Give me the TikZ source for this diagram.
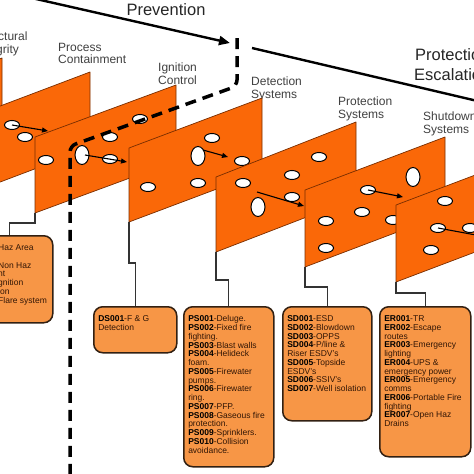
\documentclass[tikz,border=0pt]{standalone}
\usepackage{fontspec}
\setsansfont{Liberation Sans}
\usetikzlibrary{arrows.meta, shapes.geometric}

\definecolor{planeorange}{RGB}{250,104,8}
\definecolor{planeedge}{RGB}{120,45,0}
\definecolor{boxorange}{RGB}{247,150,70}
\definecolor{boxedge}{RGB}{50,32,18}
\definecolor{boxtext}{RGB}{50,22,5}

\newcommand{\itemcode}[1]{\textbf{\textcolor{black}{#1}}}
\newcommand{\boxlines}[3]{\parbox[t][#2][t]{#1}{\raggedright #3}}

\begin{document}
\begin{tikzpicture}[
  x=1pt, y=-1pt, font=\sffamily,
  plane/.style={fill=planeorange, draw=planeedge, line width=0.7pt, line join=round},
  hole/.style={ellipse, draw=black, fill=white, line width=1pt, inner sep=0pt,
               minimum width=15pt, minimum height=9pt},
  tallhole/.style={hole, minimum width=14pt, minimum height=19pt},
  flow/.style={-{Triangle[length=6pt, width=5pt]}, line width=1.1pt, black},
  layer/.style={font=\sffamily\fontsize{12}{12.5}\selectfont, text=black!75,
                align=left, inner sep=0pt, anchor=north west},
  phase/.style={font=\sffamily\fontsize{16.5}{20}\selectfont, text=black!85,
                align=center, inner sep=0pt},
  phaseline/.style={line width=2.4pt, black},
  infobox/.style={rectangle, rounded corners=9pt, draw=boxedge, line width=1.5pt,
                  fill=boxorange, anchor=north west, inner xsep=4.5pt, inner ysep=9pt,
                  text=boxtext, font=\sffamily\fontsize{8.5}{8.75}\selectfont},
  link/.style={draw=black!80, line width=1.2pt},
  barrier/.style={line width=3.5pt, dash pattern=on 11pt off 7pt, rounded corners=6pt},
]
\path[use as bounding box] (0,0) rectangle (474,474);
\clip (0,0) rectangle (474,474);

% ---- prevention / protection headings ----
\coordinate (prev-a) at (-30,-16);
\coordinate (prev-b) at (230,43);
\draw[phaseline, -{Triangle[length=11pt, width=9pt]}] (prev-a) -- (prev-b);
\node[phase] (prev) at (166,10) {Prevention};
\coordinate (prot-a) at (252,48);
\coordinate (prot-b) at (520,111);
\draw[phaseline] (prot-a) -- (prot-b);
\node[phase, anchor=north west] (prot) at (414,48) {Protection\\Escalation};

% ---- layer names ----
\node[layer] (l-struct) at (-24,32)  {Structural\\Integrity};
\node[layer] (l-proc)   at (58,43)   {Process\\Containment};
\node[layer] (l-ign)    at (158,63)  {Ignition\\Control};
\node[layer] (l-det)    at (251,77)  {Detection\\Systems};
\node[layer] (l-prot)   at (338,97)  {Protection\\Systems};
\node[layer] (l-shut)   at (423,112) {Shutdown\\Systems};

% ---- the slices, back to front ----
\draw[plane] (-138,111) -- (2,58) -- (2,134) -- (-138,187) -- cycle;

\draw[plane] (-50,125) -- (90,72) -- (90,148) -- (-50,201) coordinate (p2) -- cycle;
\node[hole] (h2a) at (12,125) {};
\node[hole] (h2b) at (25,137) {};
\coordinate (t2) at (48,131);
\draw[flow] (h2a.center) -- (t2);

\draw[plane] (35,137) -- (176,85) -- (176,161) -- (35,213) coordinate (p3) -- cycle;
\node[hole]     (h3a) at (46,160)  {};
\node[tallhole] (h3b) at (82,155)  {};
\node[hole]     (h3c) at (110,159) {};
\node[hole]     (h3d) at (110,137) {};
\node[hole]     (h3e) at (140,119) {};
\coordinate (t3) at (127,162);
\draw[flow] ([xshift=3pt]h3b.center) -- (t3);

\draw[plane] (129,148) -- (262,98) -- (262,172) -- (129,222) coordinate (p4) -- cycle;
\node[hole]     (h4a) at (148,187) {};
\node[hole]     (h4b) at (198,183) {};
\node[tallhole] (h4c) at (198,156) {};
\node[hole]     (h4d) at (212,138) {};
\node[hole]     (h4e) at (242,161) {};
\coordinate (t4) at (228,157);
\draw[flow] ([xshift=5pt, yshift=6pt]h4c.center) -- (t4);

\draw[plane] (216,177) -- (356,122) -- (356,198) -- (216,252) coordinate (p5) -- cycle;
\node[hole]     (h5a) at (243,183) {};
\node[tallhole] (h5b) at (258,207) {};
\node[hole]     (h5c) at (292,175) {};
\node[hole]     (h5d) at (292,197) {};
\node[hole]     (h5e) at (319,157) {};
\coordinate (s5) at (257,192);
\coordinate (t5) at (304,206);
\draw[flow] (s5) -- (t5);

\draw[plane] (305,190) -- (445,137) -- (445,214) -- (305,267) coordinate (p6) -- cycle;
\node[hole]     (h6a) at (326,221) {};
\node[hole]     (h6b) at (326,248) {};
\node[hole]     (h6c) at (368,190) {};
\node[hole]     (h6d) at (362,212) {};
\node[tallhole] (h6e) at (413,177) {};
\node[hole]     (h6f) at (393,220) {};
\coordinate (t6) at (403,197);
\draw[flow] (h6c.center) -- (t6);

\draw[plane] (396,205) -- (536,152) -- (536,229) -- (396,282) coordinate (p7) -- cycle;
\node[hole] (h7a) at (445,201) {};
\node[hole] (h7b) at (438,228) {};
\node[hole] (h7c) at (470,228) {};
\node[hole] (h7d) at (431,250) {};
\coordinate (t7) at (492,238);
\draw[flow] (h7b.center) -- (t7);

% ---- barrier lists ----
\node[infobox] (icbox) at (-34,235)
  {\boxlines{77pt}{69pt}{\leftskip=27pt \mbox{Haz Area}\\\mbox{}\\\mbox{Non Haz}\\nt\\gnition\\ion\\\mbox{Flare system}}};
\node[infobox] (dsbox) at (93,306)
  {\boxlines{74pt}{28pt}{\itemcode{DS001}-F \& G\\Detection}};
\node[infobox] (psbox) at (183,306)
  {\boxlines{81pt}{142pt}{\itemcode{PS001}-Deluge.\\\itemcode{PS002}-Fixed fire\\fighting.\\
   \itemcode{PS003}-Blast walls\\\itemcode{PS004}-Helideck\\foam.\\\itemcode{PS005}-Firewater\\pumps.\\
   \itemcode{PS006}-Firewater\\ring.\\\itemcode{PS007}-PFP.\\\itemcode{PS008}-Gaseous fire\\protection.\\
   \itemcode{PS009}-Sprinklers.\\\itemcode{PS010}-Collision\\avoidance.}};
\node[infobox] (sdbox) at (282,306)
  {\boxlines{80pt}{96pt}{\itemcode{SD001}-ESD\\\itemcode{SD002}-Blowdown\\\itemcode{SD003}-OPPS\\
   \itemcode{SD004}-P/line \&\\Riser ESDV's\\\itemcode{SD005}-Topside\\ESDV's\\
   \itemcode{SD006}-SSIV's\\\itemcode{SD007}-Well isolation}};
\node[infobox] (erbox) at (379,306)
  {\boxlines{82pt}{132pt}{\itemcode{ER001}-TR\\\itemcode{ER002}-Escape\\routes\\
   \itemcode{ER003}-Emergency\\lighting\\\itemcode{ER004}-UPS \&\\emergency power\\
   \itemcode{ER005}-Emergency\\comms\\\itemcode{ER006}-Portable Fire\\fighting\\
   \itemcode{ER007}-Open Haz\\Drains}};

\draw[link] (p3) -- ++(0,10) -| (icbox.north);
\draw[link] (p4) -- ++(0,41) -| (dsbox.north);
\draw[link] (p5) -- ++(0,28) -| (psbox.north);
\draw[link] (p6) -- ++(0,20) -| (sdbox.north);
\draw[link] (p7) -- ++(0,11) -| (erbox.north);

% ---- dashed line: prevention ends here ----
\draw[barrier] (237,38) -- (237,86) -- (70,146) -- (70,480);

\end{tikzpicture}
\end{document}
